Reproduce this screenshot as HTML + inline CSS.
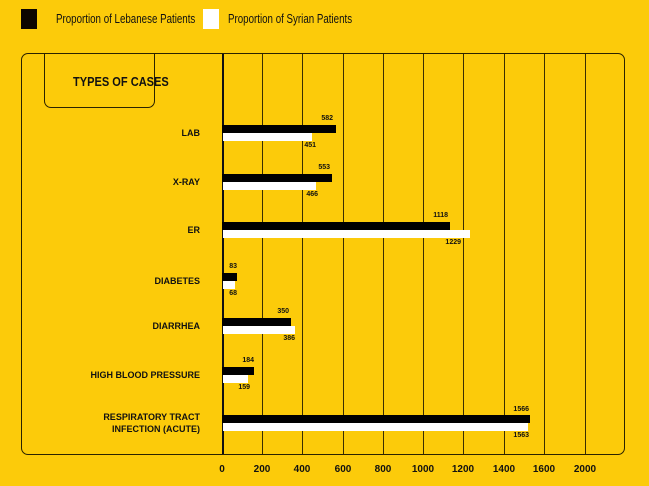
<!DOCTYPE html><html><head><style>
body{margin:0;width:649px;height:486px;background:#FCCB0A;position:relative;overflow:hidden;font-family:"Liberation Sans",sans-serif;color:#111}
.a{position:absolute}
.g{position:absolute;top:54px;height:400px;width:1px;background:#3a2e00}
.b{position:absolute;height:8px}
.k{background:#000}.w{background:#fff}
.v{position:absolute;font-size:7px;font-weight:bold;transform:translateX(-100%)}
.c{position:absolute;right:449px;font-size:9px;font-weight:bold;text-align:right;line-height:12px}
.t{position:absolute;top:464px;font-size:10px;font-weight:bold;transform:translateX(-50%)}
.lg{position:absolute;top:12px;font-size:12.5px;transform-origin:0 0;transform:scaleX(0.78);white-space:nowrap}
</style></head><body>
<div class="a" style="left:21px;top:9px;width:16px;height:20px;background:#0d0500"></div>
<div class="lg" style="left:56px">Proportion of Lebanese Patients</div>
<div class="a" style="left:203px;top:9px;width:16px;height:20px;background:#fff"></div>
<div class="lg" style="left:228px">Proportion of Syrian Patients</div>
<div class="a" style="left:21px;top:53px;width:602px;height:400px;border:1.5px solid #2a2200;border-radius:7px"></div>
<div class="a" style="left:44px;top:53px;width:109px;height:54px;border:1.5px solid #2a2200;border-top:none;border-radius:0 0 7px 7px"></div>
<div class="a" style="left:73px;top:74px;font-size:13px;font-weight:bold;transform-origin:0 0;transform:scaleX(0.85);white-space:nowrap">TYPES OF CASES</div>
<div class="g" style="left:222px;width:1.5px;background:#111"></div>
<div class="g" style="left:262px"></div><div class="g" style="left:302px"></div><div class="g" style="left:343px"></div><div class="g" style="left:383px"></div><div class="g" style="left:423px"></div><div class="g" style="left:463px"></div><div class="g" style="left:504px"></div><div class="g" style="left:544px"></div><div class="g" style="left:585px"></div>

<div class="c" style="top:127px">LAB</div>
<div class="b k" style="left:222px;top:125px;width:114px"></div><div class="b w" style="left:223px;top:133px;width:89px"></div>
<div class="v" style="left:333px;top:115px">582</div><div class="v" style="left:316px;top:142px">451</div>

<div class="c" style="top:176px">X-RAY</div>
<div class="b k" style="left:222px;top:174px;width:110px"></div><div class="b w" style="left:223px;top:182px;width:93px"></div>
<div class="v" style="left:330px;top:164px">553</div><div class="v" style="left:318px;top:191px">466</div>

<div class="c" style="top:224px">ER</div>
<div class="b k" style="left:222px;top:222px;width:228px"></div><div class="b w" style="left:223px;top:230px;width:247px"></div>
<div class="v" style="left:448px;top:212px">1118</div><div class="v" style="left:461px;top:239px">1229</div>

<div class="c" style="top:275px">DIABETES</div>
<div class="b k" style="left:222px;top:273px;width:15px"></div><div class="b w" style="left:223px;top:281px;width:12px"></div>
<div class="v" style="left:237px;top:263px">83</div><div class="v" style="left:237px;top:290px">68</div>

<div class="c" style="top:320px">DIARRHEA</div>
<div class="b k" style="left:222px;top:318px;width:69px"></div><div class="b w" style="left:223px;top:326px;width:72px"></div>
<div class="v" style="left:289px;top:308px">350</div><div class="v" style="left:295px;top:335px">386</div>

<div class="c" style="top:369px">HIGH BLOOD PRESSURE</div>
<div class="b k" style="left:222px;top:367px;width:32px"></div><div class="b w" style="left:223px;top:375px;width:25px"></div>
<div class="v" style="left:254px;top:357px">184</div><div class="v" style="left:250px;top:384px">159</div>

<div class="c" style="top:411px">RESPIRATORY TRACT<br>INFECTION (ACUTE)</div>
<div class="b k" style="left:222px;top:415px;width:308px"></div><div class="b w" style="left:223px;top:423px;width:305px"></div>
<div class="v" style="left:529px;top:406px">1566</div><div class="v" style="left:529px;top:432px">1563</div>

<div class="t" style="left:222px">0</div><div class="t" style="left:262px">200</div><div class="t" style="left:302px">400</div><div class="t" style="left:343px">600</div><div class="t" style="left:383px">800</div><div class="t" style="left:423px">1000</div><div class="t" style="left:463px">1200</div><div class="t" style="left:504px">1400</div><div class="t" style="left:544px">1600</div><div class="t" style="left:585px">2000</div>
</body></html>
